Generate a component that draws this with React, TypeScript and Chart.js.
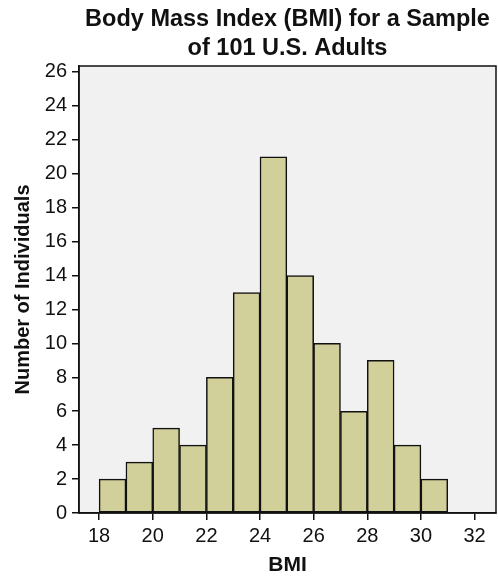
import React, { useEffect, useRef } from "react";
import { Chart, registerables } from "chart.js";

Chart.register(...registerables);

const binStarts = [18, 19, 20, 21, 22, 23, 24, 25, 26, 27, 28, 29, 30];
const counts = [2, 3, 5, 4, 8, 13, 21, 14, 10, 6, 9, 4, 2];
const titleLines = ["Body Mass Index (BMI) for a Sample", "of 101 U.S. Adults"];
const xLabel = "BMI";
const yLabel = "Number of Individuals";

const FONT = "'Liberation Sans Narrow', 'Arial Narrow', 'Liberation Sans', Arial, sans-serif";

const plotBg = {
  id: "plotBg",
  beforeDraw(chart: any) {
    const { ctx, chartArea } = chart;
    ctx.save();
    ctx.fillStyle = "#f1f1f1";
    ctx.fillRect(chartArea.left, chartArea.top, chartArea.right - chartArea.left, chartArea.bottom - chartArea.top);
    ctx.restore();
  },
  afterDraw(chart: any) {
    const { ctx, chartArea } = chart;
    ctx.save();
    ctx.strokeStyle = "#111";
    ctx.lineWidth = 1.5;
    ctx.strokeRect(chartArea.left, chartArea.top, chartArea.right - chartArea.left, chartArea.bottom - chartArea.top);
    ctx.restore();
  },
};

export default function App() {
  const ref = useRef<HTMLCanvasElement>(null);
  useEffect(() => {
    const data = binStarts.map((s, i) => ({ x: s + 0.5, y: counts[i] }));
    const chart = new Chart(ref.current!, {
      type: "bar",
      data: {
        datasets: [
          {
            data: data as any,
            backgroundColor: "#d1cf9a",
            borderColor: "#111",
            borderWidth: 1.5,
            borderSkipped: false,
            barPercentage: 1,
            categoryPercentage: 1,
          },
        ],
      },
      options: {
        animation: false,
        responsive: false,
        maintainAspectRatio: false,
        layout: { padding: { left: 0, right: 2, top: 0, bottom: 0 } },
        plugins: {
          legend: { display: false },
          tooltip: { enabled: false },
          title: {
            display: true,
            fullSize: false,
            text: titleLines,
            color: "#111",
            font: { family: FONT, size: 23.5, weight: "bold", lineHeight: 1.234 },
            padding: { top: 5, bottom: 3 },
          },
        },
        scales: {
          x: {
            type: "linear",
            offset: false,
            min: 17.25,
            max: 32.8,
            afterFit: (s: any) => { s.height = 65; },
            ticks: {
              stepSize: 2,
              includeBounds: false,
              color: "#111",
              font: { family: FONT, size: 20 },
              padding: 4,
              maxRotation: 0,
            },
            grid: { offset: false, drawOnChartArea: false, drawTicks: true, tickLength: 7, color: "#111", lineWidth: 1.5 },
            border: { display: true, color: "#111", width: 1.5 },
            title: {
              display: true,
              text: xLabel,
              color: "#111",
              font: { family: FONT, size: 21, weight: "bold", lineHeight: 1.2 },
              padding: { top: 0, bottom: 0 },
            },
          },
          y: {
            type: "linear",
            min: 0,
            max: 26.35,
            afterFit: (s: any) => { s.width = 79; },
            ticks: {
              stepSize: 2,
              includeBounds: false,
              color: "#111",
              font: { family: FONT, size: 20 },
              padding: 5,
            },
            grid: { drawOnChartArea: false, drawTicks: true, tickLength: 7, color: "#111", lineWidth: 1.5 },
            border: { display: true, color: "#111", width: 1.5 },
            title: {
              display: true,
              text: yLabel,
              color: "#111",
              font: { family: FONT, size: 20, weight: "bold", lineHeight: 1.2 },
              padding: { top: 11, bottom: 0 },
            },
          },
        },
      },
      plugins: [plotBg],
    });
    return () => chart.destroy();
  }, []);
  return (
    <div style={{ position: "fixed", left: 0, top: 0, width: 498, height: 578, background: "#fff" }}>
      <canvas ref={ref} width={498} height={578} style={{ width: 498, height: 578 }} />
    </div>
  );
}
